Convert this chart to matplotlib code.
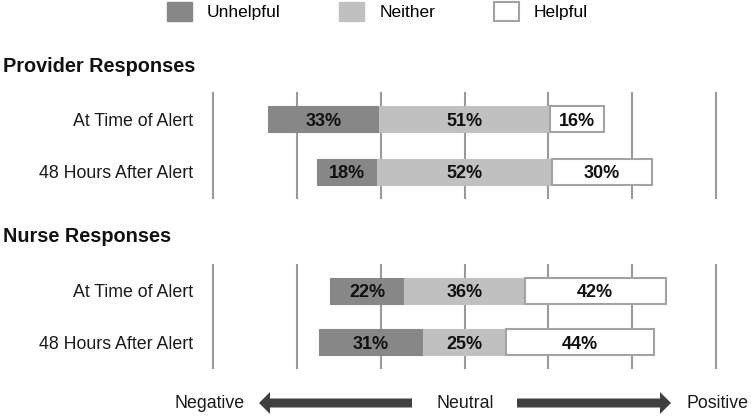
import numpy as np
import matplotlib
matplotlib.use('Agg')
import matplotlib.pyplot as plt
from matplotlib.patches import Patch, FancyArrow

plt.rcParams['font.family'] = ['Liberation Sans', 'DejaVu Sans']

rows = ['At Time of Alert', '48 Hours After Alert']
groups = ['Provider Responses', 'Nurse Responses']
categories = ['Unhelpful', 'Neither', 'Helpful']

unhelpful_provider = [33, 18]
neither_provider = [51, 52]
helpful_provider = [16, 30]

unhelpful_nurse = [22, 31]
neither_nurse = [36, 25]
helpful_nurse = [42, 44]

c_unh = '#878787'
c_nei = '#c0c0c0'
c_help = '#ffffff'
c_edge = '#a3a3a3'
c_grid = '#9a9a9a'

W, H = 751, 418
fig = plt.figure(figsize=(W / 100, H / 100), dpi=100)


def panel(rect, unh, nei, hlp):
    ax = fig.add_axes(rect)
    ax.set_xlim(-75, 75)
    ax.set_ylim(2, 0)
    for v in range(-75, 76, 25):
        ax.axvline(v, color=c_grid, lw=1.5, zorder=0, clip_on=False)
    y = np.arange(len(rows)) + 0.5
    unh = np.array(unh)
    nei = np.array(nei)
    hlp = np.array(hlp)
    # neutral segment centred on zero
    left_unh = -nei / 2 - unh
    left_nei = -nei / 2
    left_hlp = nei / 2
    ax.barh(y, unh, left=left_unh, height=0.5, color=c_unh, edgecolor=c_unh, lw=0.8, zorder=2)
    ax.barh(y, nei, left=left_nei, height=0.5, color=c_nei, edgecolor=c_nei, lw=0.8, zorder=2)
    ax.barh(y, hlp, left=left_hlp, height=0.5, color=c_help, edgecolor=c_edge, lw=1.5, zorder=2)
    for vals, lefts in [(unh, left_unh), (nei, left_nei), (hlp, left_hlp)]:
        for yi, v, l in zip(y, vals, lefts):
            ax.text(l + v / 2, yi, f'{v}%', ha='center', va='center_baseline',
                    fontsize=13, fontweight='bold', color='#111111', zorder=3)
    ax.set_yticks(y)
    ax.set_yticklabels(rows, fontsize=12.8, color='#1a1a1a')
    ax.tick_params(axis='y', length=0, pad=14.4)
    ax.set_xticks([])
    for s in ax.spines.values():
        s.set_visible(False)
    return ax


L = 213 / W
AW = 503 / W
panel([L, (H - 198) / H, AW, 105 / H], unhelpful_provider, neither_provider, helpful_provider)
panel([L, (H - 368) / H, AW, 103 / H], unhelpful_nurse, neither_nurse, helpful_nurse)

fig.text(3 / W, 1 - 67 / H, groups[0], fontsize=14.3, fontweight='bold', va='center', color='#111111')
fig.text(3 / W, 1 - 237 / H, groups[1], fontsize=14.3, fontweight='bold', va='center', color='#111111')

handles = [Patch(facecolor=c_unh, edgecolor=c_unh),
           Patch(facecolor=c_nei, edgecolor=c_nei),
           Patch(facecolor=c_help, edgecolor=c_edge, lw=1.5)]
fig.legend(handles, categories, ncol=3, loc='upper center', bbox_to_anchor=(377.5 / W, 1 - 2 / H),
           frameon=False, fontsize=12.5, handlelength=1.44, handleheight=1.3,
           handletextpad=0.85, columnspacing=3.4, borderpad=0, borderaxespad=0)

# bottom arrows
ov = fig.add_axes([0, 0, 1, 1], zorder=-1)
ov.set_xlim(0, W)
ov.set_ylim(H, 0)
ov.axis('off')
ay = 403
ov.add_patch(FancyArrow(412, ay, -153, 0, width=9, head_width=22, head_length=11,
                        length_includes_head=True, color='#404040', lw=0))
ov.add_patch(FancyArrow(517, ay, 154, 0, width=9, head_width=22, head_length=11,
                        length_includes_head=True, color='#404040', lw=0))
ov.text(245, ay, 'Negative', ha='right', va='center', fontsize=12.8, color='#1a1a1a')
ov.text(465, ay, 'Neutral', ha='center', va='center', fontsize=12.8, color='#1a1a1a')
ov.text(686, ay, 'Positive', ha='left', va='center', fontsize=12.8, color='#1a1a1a')

fig.savefig('out.png', dpi=100, facecolor='white')
